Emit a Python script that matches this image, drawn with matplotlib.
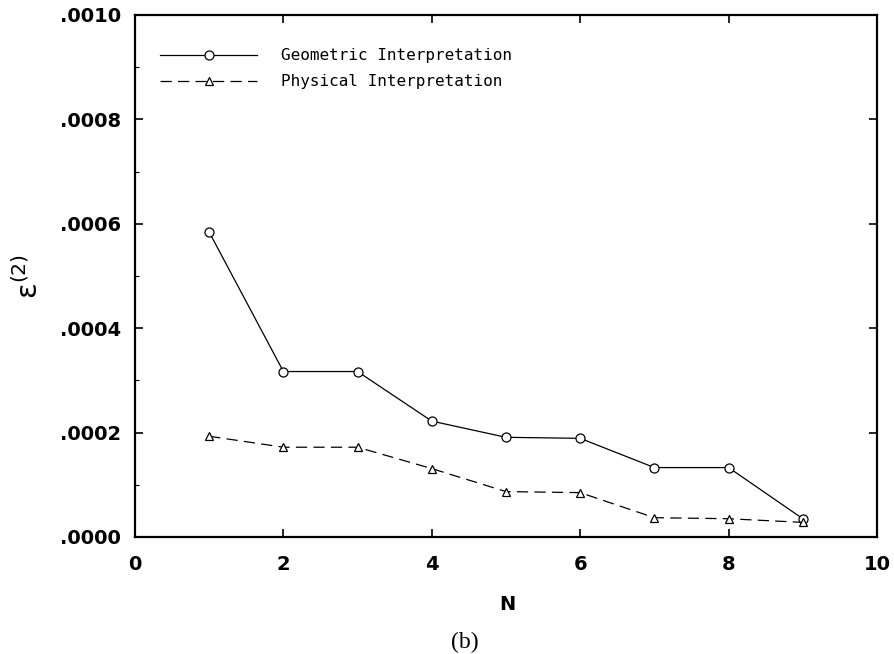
import matplotlib
matplotlib.use("Agg")
import matplotlib.pyplot as plt
from matplotlib.ticker import MultipleLocator, FixedLocator

N = [1, 2, 3, 4, 5, 6, 7, 8, 9]
geometric = [0.000584, 0.000317, 0.000317, 0.000222, 0.000191, 0.000189, 0.000133, 0.000133, 0.000035]
physical = [0.000193, 0.000172, 0.000172, 0.000131, 0.000087, 0.000085, 0.000037, 0.000035, 0.000028]
x_ticks = [0, 2, 4, 6, 8, 10]
y_ticks = [0.0, 0.0002, 0.0004, 0.0006, 0.0008, 0.0010]
y_labels = [".0000", ".0002", ".0004", ".0006", ".0008", ".0010"]

fig = plt.figure(figsize=(8.94, 6.54), dpi=100)
ax = fig.add_axes([135/894, 1-537/654, (877-135)/894, (537-15)/654])

ax.plot(N, geometric, color="black", lw=0.9, marker="o", ms=6.5, mfc="white",
        mec="black", mew=0.9, label="Geometric Interpretation")
ax.plot(N, physical, color="black", lw=0.9, ls=(0, (9, 5)), marker="^", ms=5.5,
        mfc="white", mec="black", mew=0.9, label="Physical Interpretation")

ax.set_xlim(0, 10)
ax.set_ylim(0, 0.001)
ax.xaxis.set_major_locator(FixedLocator(x_ticks))
ax.yaxis.set_major_locator(FixedLocator(y_ticks))
ax.set_yticklabels(y_labels)
ax.yaxis.set_minor_locator(MultipleLocator(0.0001))
ax.tick_params(which="major", direction="in", length=6, width=1.2,
               top=True, right=True)
ax.tick_params(which="minor", direction="in", length=3, width=0.8)
ax.tick_params(axis="y", pad=10)
ax.tick_params(axis="x", pad=13)
for lab in ax.get_xticklabels() + ax.get_yticklabels():
    lab.set_fontfamily("DejaVu Sans")
    lab.set_fontweight("bold")
    lab.set_fontsize(14)
for s in ax.spines.values():
    s.set_linewidth(1.6)

ax.set_xlabel("N", fontsize=14, fontfamily="DejaVu Sans", fontweight="bold")
ax.xaxis.set_label_coords((507-135)/742, -(605-537)/522)
ax.xaxis.label.set_va("center")
ax.set_ylabel("ε$^{(2)}$", fontsize=21, fontfamily="DejaVu Sans")
ax.yaxis.set_label_coords(-(135-44)/742, 0.5)

leg = ax.legend(loc="upper left", bbox_to_anchor=(0.0142, 0.964), frameon=False,
                handlelength=6.1, handletextpad=1.5, labelspacing=0.7,
                prop={"family": "DejaVu Sans Mono", "size": 11.5})

fig.text(465/894, 1-642/654, "(b)", ha="center", va="center",
         fontsize=17, fontfamily="Liberation Serif")

fig.savefig("out.png", dpi=100)
